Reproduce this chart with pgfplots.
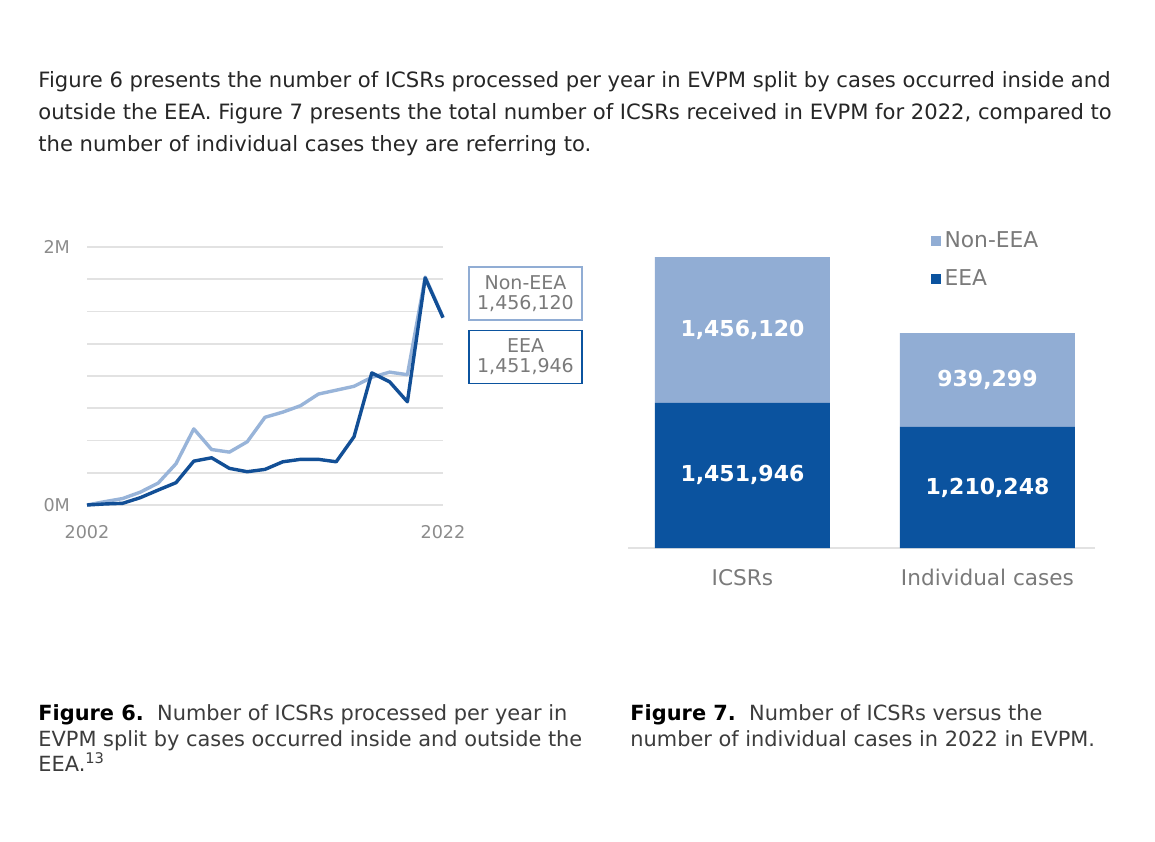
\documentclass[border=0pt]{standalone}
\usepackage{pgfplots}
\pgfplotsset{compat=1.18}
\usepackage{fontspec}
\setmainfont{DejaVu Sans}
\definecolor{eea}{HTML}{0B539F}
\definecolor{neea}{HTML}{91ADD4}
\definecolor{eeal}{HTML}{124F96}
\definecolor{neeal}{HTML}{98B4D9}
\definecolor{txt}{HTML}{262626}
\definecolor{captxt}{HTML}{3C3C3C}
\definecolor{tickc}{HTML}{8C8C8C}
\definecolor{lab}{HTML}{7A7A7A}
\definecolor{gridc}{HTML}{E2E2E2}
\tikzset{barlab/.style={text=white, font=\bfseries\fontsize{11}{12}\selectfont}}
\begin{document}
\begin{tikzpicture}
\fill[white] (0pt,0pt) rectangle (577.5pt,420.5pt);
% body text
\begin{scope}[every node/.style={anchor=base west, inner sep=0, text=txt, font=\fontsize{10.55}{12}\selectfont}]
\node at (19pt,376.5pt) {Figure 6 presents the number of ICSRs processed per year in EVPM split by cases occurred inside and};
\node at (19pt,360.5pt) {outside the EEA. Figure 7 presents the total number of ICSRs received in EVPM for 2022, compared to};
\node at (19pt,344.5pt) {the number of individual cases they are referring to.};
\end{scope}
% captions
\begin{scope}[every node/.style={anchor=base west, inner sep=0, text=captxt, font=\fontsize{10.45}{12}\selectfont}]
\node at (19pt,60.5pt) {\textcolor{black}{\textbf{Figure 6.}}\ \ Number of ICSRs processed per year in};
\node at (19pt,47.5pt) {EVPM split by cases occurred inside and outside the};
\node at (19pt,35pt) {EEA.\textsuperscript{13}};
\node at (315pt,60.5pt) {\textcolor{black}{\textbf{Figure 7.}}\ \ Number of ICSRs versus the};
\node at (315pt,47.5pt) {number of individual cases in 2022 in EVPM.};
\end{scope}

% Figure 6: line chart
\begin{axis}[at={(43.5pt,168pt)}, anchor=south west, scale only axis,
  width=178pt, height=129pt,
  xmin=2002, xmax=2022, ymin=0, ymax=2000000,
  axis line style={draw=none}, major tick length=0pt,
  xtick={2002,2022}, xticklabels={2002,2022},
  ytick={0,250000,...,2000000}, yticklabels={0M,,,,,,,,2M},
  scaled y ticks=false, scaled x ticks=false,
  ymajorgrids, grid style={gridc, line width=0.9pt},
  /pgf/number format/assume math mode=true,
  tick label style={text=tickc, font=\fontsize{8.8}{10}\selectfont},
  yticklabel style={xshift=-5pt},
  xticklabel style={yshift=-6.5pt},
  clip=false]
\addplot[neeal, line width=1.7pt, line join=round] coordinates {
(2002,0) (2003,26000) (2004,50000) (2005,100000) (2006,170000) (2007,320000)
(2008,590000) (2009,430000) (2010,410000) (2011,490000) (2012,680000) (2013,720000)
(2014,770000) (2015,860000) (2016,890000) (2017,920000) (2018,990000) (2019,1030000)
(2020,1010000) (2021,1767000) (2022,1456120)};
\addplot[eeal, line width=1.7pt, line join=round] coordinates {
(2002,0) (2003,8000) (2004,13000) (2005,57000) (2006,116000) (2007,173000)
(2008,340000) (2009,366000) (2010,284000) (2011,258000) (2012,276000) (2013,335000)
(2014,354000) (2015,354000) (2016,335000) (2017,529000) (2018,1024000) (2019,955000)
(2020,800000) (2021,1760000) (2022,1451946)};
\end{axis}
\node[draw=neea, line width=0.8pt, minimum width=56.5pt, minimum height=26.5pt, align=center, text=lab, inner sep=0, font=\fontsize{9.5}{10}\selectfont] at (262.75pt,273.75pt) {Non-EEA\\1,456,120};
\node[draw=eea, line width=0.9pt, minimum width=56.5pt, minimum height=26.5pt, align=center, text=lab, inner sep=0, font=\fontsize{9.5}{10}\selectfont] at (262.75pt,242pt) {EEA\\1,451,946};

% Figure 7: stacked bars
\begin{axis}[at={(314pt,146.5pt)}, anchor=south west, scale only axis,
  width=233.5pt, height=150pt,
  ybar stacked, bar width=87.5pt,
  xmin=-0.467, xmax=1.439, ymin=0, ymax=3000000,
  axis x line=bottom, axis y line=none,
  x axis line style={-, draw=gridc, line width=1pt},
  major tick length=0pt,
  xtick={0,1}, xticklabels={ICSRs,Individual cases},
  ytick=\empty, scaled y ticks=false,
  xticklabel style={text=lab, font=\fontsize{10.8}{12}\selectfont, yshift=-7pt},
  legend cell align=left,
  legend style={at={(0.647,1.07)}, anchor=north west, draw=none, fill=none,
    font=\fontsize{10.9}{12}\selectfont, text=lab, row sep=5.5pt, inner sep=0pt},
  legend image code/.code={\fill[#1] (0pt,-2.5pt) rectangle (5pt,2.5pt);},
  reverse legend,
  clip=false]
\addplot[fill=eea, draw=none] coordinates {(0,1451946) (1,1210248)};
\addplot[fill=neea, draw=none] coordinates {(0,1456120) (1,939299)};
\legend{EEA,Non-EEA}
\coordinate (l1) at (axis cs:0,725973);
\coordinate (l2) at (axis cs:0,2180006);
\coordinate (l3) at (axis cs:1,605124);
\coordinate (l4) at (axis cs:1,1679898);
\end{axis}
\node[barlab] at (l1) {1,451,946};
\node[barlab] at (l2) {1,456,120};
\node[barlab] at (l3) {1,210,248};
\node[barlab] at (l4) {939,299};
\end{tikzpicture}
\end{document}
